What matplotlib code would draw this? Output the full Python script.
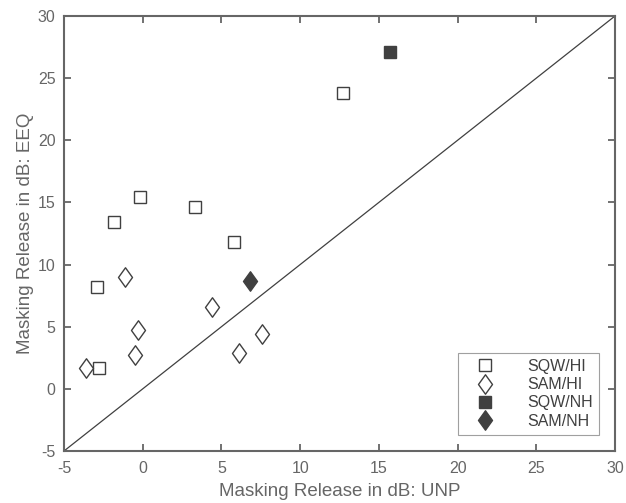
import matplotlib
matplotlib.use('Agg')
import matplotlib.pyplot as plt
from matplotlib.path import Path

plt.rcParams['font.family'] = ['Liberation Sans', 'DejaVu Sans']

# masking release values (dB), UNP on x, EEQ on y
sqw_hi_unp = [-2.8, -2.9, -1.8, -0.2, 3.3, 5.8, 12.7]
sqw_hi_eeq = [1.7, 8.2, 13.4, 15.4, 14.6, 11.8, 23.8]
sam_hi_unp = [-3.6, -0.5, -0.3, -1.1, 4.4, 6.1, 7.6]
sam_hi_eeq = [1.7, 2.7, 4.7, 9.0, 6.6, 2.9, 4.4]
sqw_nh_unp = [15.7]
sqw_nh_eeq = [27.1]
sam_nh_unp = [6.8]
sam_nh_eeq = [8.7]

axis_lim = [-5, 30]
ticks = [-5, 0, 5, 10, 15, 20, 25, 30]

axis_color = '#666666'
mark_color = '#404040'

# matlab style diamond, taller than wide
diamond = Path([(0, 1), (0.72, 0), (0, -1), (-0.72, 0), (0, 1)],
               [Path.MOVETO, Path.LINETO, Path.LINETO, Path.LINETO, Path.CLOSEPOLY])

fig = plt.figure(figsize=(6.26, 5.03), dpi=100)
ax = fig.add_axes([64 / 626, 52 / 503, 551 / 626, 435 / 503])

ax.plot(axis_lim, axis_lim, color=mark_color, lw=0.9, zorder=1)

ax.plot(sqw_hi_unp, sqw_hi_eeq, ls='none', marker='s', ms=8, mfc='white',
        mec=mark_color, mew=1.0, label='SQW/HI')
ax.plot(sam_hi_unp, sam_hi_eeq, ls='none', marker=diamond, ms=14, mfc='white',
        mec=mark_color, mew=1.0, label='SAM/HI')
ax.plot(sqw_nh_unp, sqw_nh_eeq, ls='none', marker='s', ms=8, mfc=mark_color,
        mec=mark_color, mew=1.0, label='SQW/NH')
ax.plot(sam_nh_unp, sam_nh_eeq, ls='none', marker=diamond, ms=14, mfc=mark_color,
        mec=mark_color, mew=1.0, label='SAM/NH')

ax.set_xlim(axis_lim)
ax.set_ylim(axis_lim)
ax.set_xticks(ticks)
ax.set_yticks(ticks)
ax.set_xticklabels([str(t) for t in ticks])
ax.set_yticklabels([str(t) for t in ticks])

ax.tick_params(direction='in', top=True, right=True, length=5, width=1.3,
               color=axis_color, labelcolor=axis_color, labelsize=11.5)
ax.tick_params(axis='x', pad=7)
ax.tick_params(axis='y', pad=6)
for s in ax.spines.values():
    s.set_color(axis_color)
    s.set_linewidth(1.5)

ax.set_xlabel('Masking Release in dB: UNP', color=axis_color, fontsize=13.5, labelpad=5)
ax.set_ylabel('Masking Release in dB: EEQ', color=axis_color, fontsize=13.5, labelpad=3)

leg = ax.legend(loc='lower right', fontsize=11.5, frameon=True, fancybox=False,
                edgecolor='#888888', borderpad=0.4, labelspacing=0.2,
                handletextpad=1.3, borderaxespad=1.0, handlelength=2.6)
leg.get_frame().set_linewidth(0.8)
for t in leg.get_texts():
    t.set_color('#404040')

fig.savefig('out.png', dpi=100)
